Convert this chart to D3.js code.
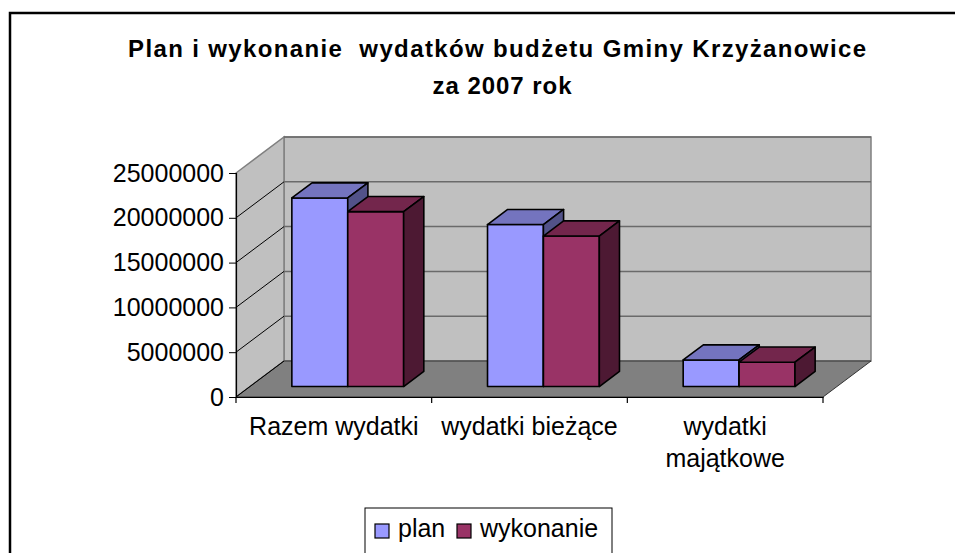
<!DOCTYPE html>
<html>
<head>
<meta charset="utf-8">
<script src="https://cdn.jsdelivr.net/npm/d3@7"></script>
<style>
  body { margin: 0; background: #fff; }
  text { font-family: "Liberation Sans", Arial, sans-serif; }
</style>
</head>
<body>
<svg id="chart" width="955" height="553"></svg>
<script>
const categories = ['Razem wydatki', 'wydatki bieżące', 'wydatki majątkowe'];
const categoryLines = [['Razem wydatki'], ['wydatki bieżące'], ['wydatki', 'majątkowe']];
const seriesNames = ['plan', 'wykonanie'];
const planValues = [21050000, 18080000, 2970000];
const wykonanieValues = [19520000, 16800000, 2720000];
const yTicks = [0, 5000000, 10000000, 15000000, 20000000, 25000000];
const titleLines = ['Plan i wykonanie  wydatków budżetu Gminy Krzyżanowice', 'za 2007 rok'];

const colors = {
  plan: { front: '#9999ff', top: '#7474bf', side: '#525289' },
  wykonanie: { front: '#993366', top: '#73264c', side: '#4d1933' }
};

const svg = d3.select('#chart');

// depth offset of the back wall
const DX = 48, DY = -36;
const x = d3.scaleBand().domain(categories).range([236, 823]).padding(0);
const y = d3.scaleLinear().domain([0, 25000000]).range([397, 173]);
const proj = (px, v, z) => [px + DX * z, y(v) + DY * z];

// chart area border (runs off right/bottom)
svg.append('rect')
  .attr('x', 10).attr('y', 13).attr('width', 1000).attr('height', 1000)
  .attr('fill', '#fff').attr('stroke', '#000').attr('stroke-width', 2.5);

// title
svg.append('g').selectAll('text')
  .data(titleLines)
  .join('text')
  .attr('x', (d, i) => i === 0 ? 497 : 502)
  .attr('y', (d, i) => i === 0 ? 57 : 94)
  .attr('text-anchor', 'middle')
  .attr('font-size', 24)
  .attr('font-weight', 'bold')
  .attr('textLength', (d, i) => i === 0 ? 738 : 139)
  .attr('lengthAdjust', 'spacing')
  .style('white-space', 'pre')
  .text(d => d);

const [x0, x1] = x.range();
const [v0, v1] = y.domain();
const line = d3.line();

// walls and floor
const backWall = [proj(x0, v0, 1), proj(x1, v0, 1), proj(x1, v1, 1), proj(x0, v1, 1)];
const sideWall = [proj(x0, v0, 0), proj(x0, v0, 1), proj(x0, v1, 1), proj(x0, v1, 0)];
const floor = [proj(x0, v0, 0), proj(x1, v0, 0), proj(x1, v0, 1), proj(x0, v0, 1)];

svg.append('path').attr('d', line(backWall) + 'Z').attr('fill', '#c0c0c0').attr('stroke', '#808080').attr('stroke-width', 1.5);
svg.append('path').attr('d', line(sideWall) + 'Z').attr('fill', '#c0c0c0').attr('stroke', '#808080').attr('stroke-width', 1.5);
svg.append('path').attr('d', line(floor) + 'Z').attr('fill', '#808080').attr('stroke', '#333').attr('stroke-width', 1);

// gridlines on back wall and diagonals on side wall
const grid = svg.append('g');
grid.selectAll('line.h')
  .data(yTicks.filter(v => v > 0))
  .join('line')
  .attr('class', 'h')
  .attr('x1', d => proj(x0, d, 1)[0]).attr('y1', d => proj(x0, d, 1)[1])
  .attr('x2', d => proj(x1, d, 1)[0]).attr('y2', d => proj(x1, d, 1)[1])
  .attr('stroke', '#6a6a6a').attr('stroke-width', 1.5);
grid.selectAll('line.d')
  .data(yTicks.filter(v => v < v1))
  .join('line')
  .attr('class', 'd')
  .attr('x1', d => proj(x0, d, 0)[0]).attr('y1', d => proj(x0, d, 0)[1])
  .attr('x2', d => proj(x0, d, 1)[0]).attr('y2', d => proj(x0, d, 1)[1])
  .attr('stroke', '#000').attr('stroke-width', 1);

// bars
const bw = x.bandwidth() / 3.5;
const gap = (x.bandwidth() - 2 * bw) / 2;
const z0 = 0.29, z1 = 0.71;
const barData = [];
categories.forEach((c, i) => {
  [planValues[i], wykonanieValues[i]].forEach((v, s) => {
    barData.push({ cat: c, series: seriesNames[s], value: v, left: x(c) + gap + s * bw });
  });
});

const bars = svg.append('g').selectAll('g')
  .data(barData)
  .join('g');

bars.append('path')
  .attr('d', d => line([proj(d.left, 0, z0), proj(d.left + bw, 0, z0), proj(d.left + bw, d.value, z0), proj(d.left, d.value, z0)]) + 'Z')
  .attr('fill', d => colors[d.series].front);
bars.append('path')
  .attr('d', d => line([proj(d.left, d.value, z0), proj(d.left + bw, d.value, z0), proj(d.left + bw, d.value, z1), proj(d.left, d.value, z1)]) + 'Z')
  .attr('fill', d => colors[d.series].top);
bars.append('path')
  .attr('d', d => line([proj(d.left + bw, 0, z0), proj(d.left + bw, 0, z1), proj(d.left + bw, d.value, z1), proj(d.left + bw, d.value, z0)]) + 'Z')
  .attr('fill', d => colors[d.series].side);
bars.selectAll('path')
  .attr('stroke', '#000').attr('stroke-width', 1.6).attr('stroke-linejoin', 'round');

// axes
const yAxis = svg.append('g')
  .attr('transform', `translate(${x0},0)`)
  .call(d3.axisLeft(y).tickValues(yTicks).tickSize(7).tickPadding(5).tickFormat(d3.format('d')));
yAxis.select('.domain').attr('stroke', '#000').attr('stroke-width', 1.2);
yAxis.selectAll('text').attr('font-size', 25).attr('fill', '#000')
  .attr('font-family', '"Liberation Sans", Arial, sans-serif');

const xAxis = svg.append('g')
  .attr('transform', `translate(0,${y(0)})`)
  .call(d3.axisBottom(x).tickSize(0).tickFormat(''));
xAxis.select('.domain').attr('stroke', '#000').attr('stroke-width', 1.2);
xAxis.selectAll('line.sep')
  .data([x0, ...categories.map(c => x(c) + x.bandwidth())])
  .join('line')
  .attr('class', 'sep')
  .attr('x1', d => d).attr('x2', d => d)
  .attr('y1', 0).attr('y2', 6)
  .attr('stroke', '#000').attr('stroke-width', 1.2);

svg.append('g').selectAll('text')
  .data(categories)
  .join('text')
  .attr('text-anchor', 'middle')
  .attr('font-size', 25)
  .attr('x', d => x(d) + x.bandwidth() / 2)
  .attr('y', 435)
  .each(function (d, i) {
    d3.select(this).selectAll('tspan')
      .data(categoryLines[i])
      .join('tspan')
      .attr('x', x(d) + x.bandwidth() / 2)
      .attr('dy', (t, j) => j === 0 ? 0 : 32)
      .text(t => t);
  });

// legend
const legend = svg.append('g');
legend.append('rect')
  .attr('x', 365).attr('y', 508).attr('width', 247).attr('height', 80)
  .attr('fill', '#fff').attr('stroke', '#000').attr('stroke-width', 1);
const legendX = [375, 457];
const items = legend.selectAll('g')
  .data(seriesNames)
  .join('g')
  .attr('transform', (d, i) => `translate(${legendX[i]},524)`);
items.append('rect')
  .attr('width', 14).attr('height', 14)
  .attr('fill', d => colors[d].front)
  .attr('stroke', '#000').attr('stroke-width', 1.2);
items.append('text')
  .attr('x', 23).attr('y', 13)
  .attr('font-size', 25)
  .text(d => d);
</script>
</body>
</html>
